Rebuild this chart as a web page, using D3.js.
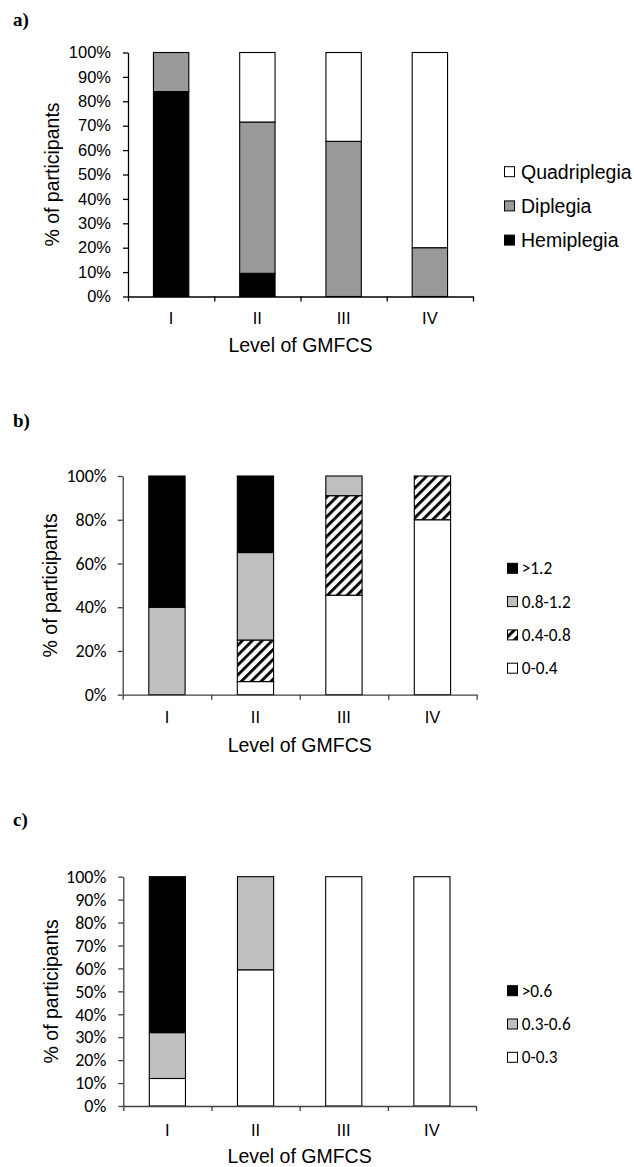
<!DOCTYPE html>
<html>
<head>
<meta charset="utf-8">
<script src="https://cdn.jsdelivr.net/npm/d3@7"></script>
<style>
  body { margin: 0; background: #fff; }
  svg { display: block; }
</style>
</head>
<body>
<script>
// GMFCS levels on the x axis
var levels = ["I", "II", "III", "IV"];

// panel a) - type of cerebral palsy (% of participants)
var aKeys = ["Hemiplegia", "Diplegia", "Quadriplegia"];
var aHemiplegia = [84, 9.5, 0, 0];
var aDiplegia = [16, 62, 63.6, 20];
var aQuadriplegia = [0, 28.5, 36.4, 80];
var aTicks = [0, 10, 20, 30, 40, 50, 60, 70, 80, 90, 100];

// panel b)
var bKeys = ["0-0.4", "0.4-0.8", "0.8-1.2", ">1.2"];
var b0to04 = [0, 6, 45.5, 80];
var b04to08 = [0, 19, 45.5, 20];
var b08to12 = [40, 40, 9, 0];
var bOver12 = [60, 35, 0, 0];
var bTicks = [0, 20, 40, 60, 80, 100];

// panel c)
var cKeys = ["0-0.3", "0.3-0.6", ">0.6"];
var c0to03 = [12, 59.4, 100, 100];
var c03to06 = [20, 40.6, 0, 0];
var cOver06 = [68, 0, 0, 0];
var cTicks = [0, 10, 20, 30, 40, 50, 60, 70, 80, 90, 100];

var W = 634, H = 1167;
var arial = "'Liberation Sans', Arial, sans-serif";
var calibri = "Carlito, Lato, sans-serif";

var svg = d3.select("body").append("svg")
    .attr("width", W)
    .attr("height", H);

var defs = svg.append("defs");
var hatch = defs.append("pattern")
    .attr("id", "hatch")
    .attr("patternUnits", "userSpaceOnUse")
    .attr("width", 7)
    .attr("height", 7)
    .attr("patternTransform", "rotate(45)");
hatch.append("rect").attr("width", 7).attr("height", 7).attr("fill", "#fff");
hatch.append("rect").attr("x", 0).attr("width", 2.8).attr("height", 7).attr("fill", "#000");

function buildRows(keys, series) {
    return levels.map(function (lv, i) {
        var row = { level: lv };
        keys.forEach(function (k, j) { row[k] = series[j][i]; });
        return row;
    });
}

function drawPanel(p) {
    var g = svg.append("g");

    var x = d3.scaleBand()
        .domain(levels)
        .range([p.x0, p.x1])
        .paddingInner(0.59)
        .paddingOuter(0.295);

    var xEdge = d3.scaleLinear()
        .domain([0, levels.length])
        .range([p.x0, p.x1]);

    var y = d3.scaleLinear()
        .domain([0, 100])
        .range([p.yBot, p.yTop]);

    var stacked = d3.stack().keys(p.keys)(buildRows(p.keys, p.series));

    // bars
    stacked.forEach(function (layer, li) {
        g.append("g")
            .selectAll("rect")
            .data(layer.filter(function (d) { return d[1] - d[0] > 0; }))
            .enter().append("rect")
            .attr("x", function (d) { return x(d.data.level); })
            .attr("width", x.bandwidth())
            .attr("y", function (d) { return y(d[1]); })
            .attr("height", function (d) { return y(d[0]) - y(d[1]); })
            .attr("fill", p.fills[li])
            .attr("stroke", "#000")
            .attr("stroke-width", 1.1);
    });

    // y axis
    var yAxis = g.append("g")
        .attr("transform", "translate(" + p.x0 + ",0)")
        .call(d3.axisLeft(y)
            .tickValues(p.ticks)
            .tickSize(5)
            .tickPadding(p.tickPad)
            .tickSizeOuter(0)
            .tickFormat(function (d) { return d + "%"; }));
    yAxis.select(".domain").attr("stroke", p.axisColor).attr("stroke-width", 1.3);
    yAxis.selectAll(".tick line").attr("stroke", p.axisColor).attr("stroke-width", 1.3);
    yAxis.selectAll(".tick text")
        .attr("fill", "#000")
        .style("font-family", p.tickFont)
        .style("font-size", p.tickSize + "px");

    // x axis: ticks at band edges
    var xAxis = g.append("g")
        .attr("transform", "translate(0," + p.yBot + ")")
        .call(d3.axisBottom(xEdge)
            .tickValues(d3.range(levels.length + 1))
            .tickSize(5)
            .tickSizeOuter(0)
            .tickFormat(""));
    xAxis.select(".domain").attr("stroke", p.axisColor).attr("stroke-width", 1.3);
    xAxis.selectAll(".tick line").attr("stroke", p.axisColor).attr("stroke-width", 1.3);

    g.append("g")
        .selectAll("text")
        .data(levels)
        .enter().append("text")
        .attr("x", function (d) { return x(d) + x.bandwidth() / 2; })
        .attr("y", p.xLabY)
        .attr("dy", "0.35em")
        .attr("text-anchor", "middle")
        .style("font-family", arial)
        .style("font-size", "16.5px")
        .text(function (d) { return d; });

    g.append("text")
        .attr("x", (p.x0 + p.x1) / 2)
        .attr("y", p.xTitleY)
        .attr("dy", "0.35em")
        .attr("text-anchor", "middle")
        .style("font-family", arial)
        .style("font-size", "19.5px")
        .text("Level of GMFCS");

    g.append("text")
        .attr("transform", "translate(" + p.yTitleX + "," + (p.yTop + p.yBot) / 2 + ") rotate(-90)")
        .attr("dy", "0.35em")
        .attr("text-anchor", "middle")
        .style("font-family", arial)
        .style("font-size", "19.5px")
        .text("% of participants");

    // panel letter
    g.append("text")
        .attr("x", 13)
        .attr("y", p.letterY)
        .style("font-family", "'Liberation Serif', 'Times New Roman', serif")
        .style("font-weight", "bold")
        .style("font-size", "19px")
        .text(p.letter);

    // legend, top entry = top of stack
    var items = p.keys.map(function (k, i) { return { key: k, fill: p.fills[i] }; }).reverse();
    var leg = g.append("g")
        .selectAll("g")
        .data(items)
        .enter().append("g")
        .attr("transform", function (d, i) {
            return "translate(" + p.legX + "," + (p.legY + i * p.legStep) + ")";
        });
    leg.append("rect")
        .attr("x", 0)
        .attr("y", -5)
        .attr("width", 10)
        .attr("height", 10)
        .attr("fill", function (d) { return d.fill; })
        .attr("stroke", "#000")
        .attr("stroke-width", 1);
    leg.append("text")
        .attr("x", p.legTextDx)
        .attr("y", 0)
        .attr("dy", "0.35em")
        .style("font-family", p.legFont)
        .style("font-size", p.legSize + "px")
        .text(function (d) { return d.key; });
}

drawPanel({
    letter: "a)", letterY: 26,
    keys: aKeys, series: [aHemiplegia, aDiplegia, aQuadriplegia],
    fills: ["#000", "#999999", "#fff"],
    ticks: aTicks,
    x0: 128, x1: 473, yTop: 52.5, yBot: 296.5,
    axisColor: "#000", tickFont: arial, tickSize: 16.5, tickPad: 12,
    xLabY: 318.5, xTitleY: 345, yTitleX: 52,
    legX: 504.5, legY: 171.7, legStep: 34.2, legTextDx: 16.5,
    legFont: arial, legSize: 19.5
});

drawPanel({
    letter: "b)", letterY: 426.5,
    keys: bKeys, series: [b0to04, b04to08, b08to12, bOver12],
    fills: ["#fff", "url(#hatch)", "#bfbfbf", "#000"],
    ticks: bTicks,
    x0: 122.7, x1: 476.7, yTop: 476, yBot: 694.7,
    axisColor: "#404040", tickFont: calibri, tickSize: 18, tickPad: 11,
    xLabY: 717.5, xTitleY: 745, yTitleX: 50.5,
    legX: 507.5, legY: 568.3, legStep: 33.3, legTextDx: 14.2,
    legFont: calibri, legSize: 17.3
});

drawPanel({
    letter: "c)", letterY: 826,
    keys: cKeys, series: [c0to03, c03to06, cOver06],
    fills: ["#fff", "#bfbfbf", "#000"],
    ticks: cTicks,
    x0: 123.3, x1: 476, yTop: 876.7, yBot: 1106,
    axisColor: "#404040", tickFont: calibri, tickSize: 18, tickPad: 12,
    xLabY: 1130, xTitleY: 1156.5, yTitleX: 51,
    legX: 507.5, legY: 990.7, legStep: 33.3, legTextDx: 14.2,
    legFont: calibri, legSize: 17.3
});
</script>
</body>
</html>
